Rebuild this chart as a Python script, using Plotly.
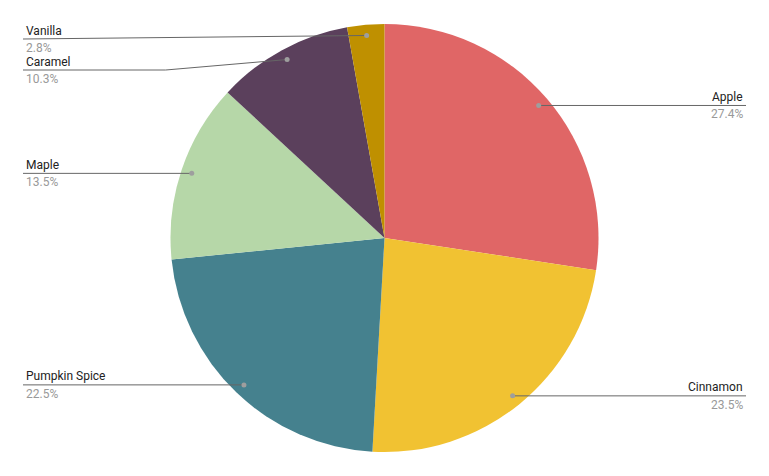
import numpy as np
import plotly.graph_objects as go

W, H = 769, 476
OFF = 8  # page body margin the figure sits inside
CX, CY, R = 384.5, 238, 214

flavors = ["Apple", "Cinnamon", "Pumpkin Spice", "Maple", "Caramel", "Vanilla"]
shares = [27.4, 23.5, 22.5, 13.5, 10.3, 2.8]
colors = ["#e06666", "#f1c232", "#45818e", "#b6d7a8", "#5b405c", "#bf9000"]

NAME_COLOR = "#222222"
PCT_COLOR = "#999999"
LINE_COLOR = "#666666"
FONT = "Roboto, Arial, sans-serif"

fig = go.Figure()

fig.add_trace(go.Pie(
    labels=flavors,
    values=shares,
    sort=False,
    direction="clockwise",
    rotation=0,
    marker=dict(colors=colors, line=dict(width=0)),
    textinfo="none",
    hoverinfo="label+percent",
    showlegend=False,
    domain=dict(
        x=[(CX - OFF - R) / W, (CX - OFF + R) / W],
        y=[(H - (CY - OFF + R)) / H, (H - (CY - OFF - R)) / H],
    ),
))

# leader line anchor points on each slice, from the mid angle
vals = np.array(shares)
mids = (np.cumsum(vals) - vals / 2) / vals.sum() * 2 * np.pi
dot_r = R * 0.95
dot_x = CX + dot_r * np.sin(mids)
dot_y = CY - dot_r * np.cos(mids)

LEFT_X, RIGHT_X = 23, 746
MIN_GAP, TOP_Y = 31, 39

# spread label rows on each side so they do not overlap
label_y = dot_y.copy()
for side in (True, False):
    idx = [i for i in range(len(flavors)) if (dot_x[i] < CX) == side]
    idx.sort(key=lambda i: dot_y[i])
    prev = TOP_Y - MIN_GAP
    for i in idx:
        label_y[i] = max(dot_y[i], prev + MIN_GAP)
        prev = label_y[i]

line_style = dict(color=LINE_COLOR, width=1)

for i, name in enumerate(flavors):
    left = dot_x[i] < CX
    edge = LEFT_X if left else RIGHT_X
    ly = label_y[i]
    if abs(ly - dot_y[i]) < 0.5:
        pts = [(edge, ly), (dot_x[i], dot_y[i])]
    else:
        # elbow: horizontal run then slant up to the slice
        elbow = edge + (dot_x[i] - edge) * (0.0 if ly - dot_y[i] < 6 else 0.54)
        pts = [(edge, ly), (elbow, ly), (dot_x[i], dot_y[i])]
    for (x0, y0), (x1, y1) in zip(pts[:-1], pts[1:]):
        if abs(x1 - x0) < 0.01 and abs(y1 - y0) < 0.01:
            continue
        fig.add_shape(type="line", xref="x", yref="y", x0=x0, y0=y0, x1=x1, y1=y1,
                      line=line_style, layer="above")
    fig.add_shape(type="circle", xref="x", yref="y",
                  x0=dot_x[i] - 2.5, x1=dot_x[i] + 2.5,
                  y0=dot_y[i] - 2.5, y1=dot_y[i] + 2.5,
                  fillcolor="#9e9e9e", line=dict(width=0), layer="above")
    tx = edge + 1 if left else edge - 1
    anchor = "left" if left else "right"
    fig.add_annotation(
        x=tx, y=ly - 8.5, text=name, showarrow=False,
        xanchor=anchor, yanchor="middle",
        font=dict(family=FONT, size=12, color=NAME_COLOR),
    )
    fig.add_annotation(
        x=tx, y=ly + 9, text=f"{shares[i]:.1f}%", showarrow=False,
        xanchor=anchor, yanchor="middle",
        font=dict(family=FONT, size=12, color=PCT_COLOR),
    )

fig.update_layout(
    width=W, height=H,
    margin=dict(l=0, r=0, t=0, b=0),
    paper_bgcolor="#ffffff",
    plot_bgcolor="rgba(0,0,0,0)",
    xaxis=dict(range=[OFF, W + OFF], visible=False, fixedrange=True),
    yaxis=dict(range=[H + OFF, OFF], visible=False, fixedrange=True),
    font=dict(family=FONT),
)

fig.write_html("out.html")
